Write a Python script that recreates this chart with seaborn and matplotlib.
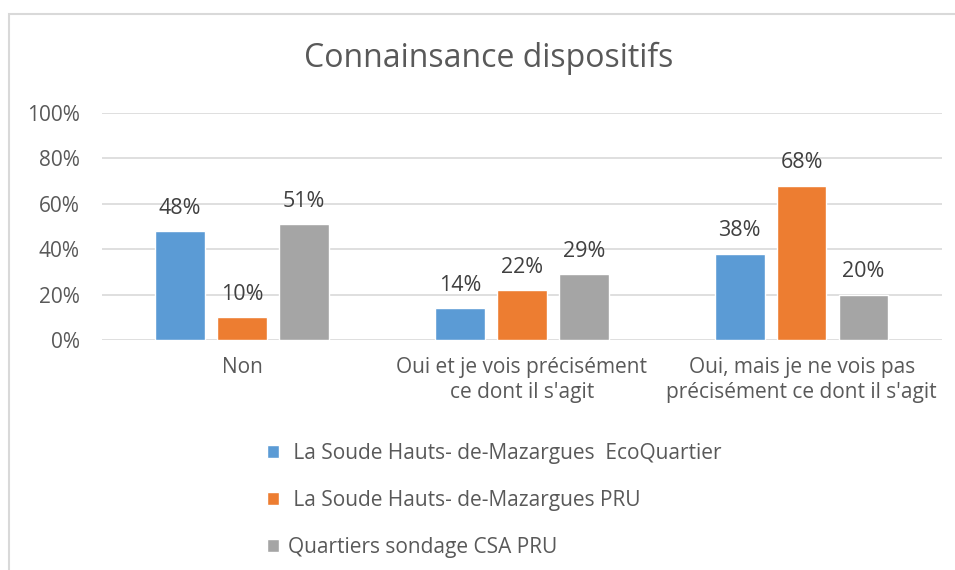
import pandas as pd
import matplotlib.pyplot as plt
import seaborn as sns
from matplotlib.patches import Rectangle
from matplotlib.ticker import PercentFormatter

categories = ["Non", "Oui et je vois précisément\nce dont il s'agit",
              "Oui, mais je ne vois pas\nprécisément ce dont il s'agit"]
series = [" La Soude Hauts- de-Mazargues  EcoQuartier",
          " La Soude Hauts- de-Mazargues PRU",
          "Quartiers sondage CSA PRU"]
eco = [0.48, 0.14, 0.38]
pru = [0.10, 0.22, 0.68]
csa = [0.51, 0.29, 0.20]
colors = ["#5B9BD5", "#ED7D31", "#A5A5A5"]

df = pd.DataFrame({
    "cat": categories * 3,
    "serie": [series[0]] * 3 + [series[1]] * 3 + [series[2]] * 3,
    "val": eco + pru + csa,
})

sns.set_style("white")
plt.rcParams["font.family"] = ["Open Sans", "DejaVu Sans"]
txt = "#595959"

fig = plt.figure(figsize=(9.55, 5.70), dpi=100)
ax = fig.add_axes([0.107, 0.4035, 0.879, 0.3983])

sns.barplot(data=df, x="cat", y="val", hue="serie", palette=colors,
            width=0.664, gap=0.2, ax=ax, legend=True, saturation=1)

for cont in ax.containers:
    ax.bar_label(cont, labels=[f"{v*100:.0f}%" for v in cont.datavalues],
                 padding=9, fontsize=15.5, color="#404040")

ax.set_ylim(0, 1)
ax.set_yticks([0, 0.2, 0.4, 0.6, 0.8, 1.0])
ax.yaxis.set_major_formatter(PercentFormatter(1.0, decimals=0))
ax.grid(axis="y", color="#D9D9D9", linewidth=1.2)
ax.set_axisbelow(True)
for s in ax.spines.values():
    s.set_visible(False)
ax.tick_params(axis="both", length=0, labelsize=15, colors=txt)
ax.tick_params(axis="y", pad=16)
ax.tick_params(axis="x", pad=12)
ax.set_xlabel("")
ax.set_ylabel("")
for lbl in ax.get_xticklabels():
    lbl.set_linespacing(1.25)

# title centred on the whole chart area, not the plot
fig.text(489 / 955, 1 - 58 / 570, "Connainsance dispositifs", fontsize=23,
         color=txt, ha="center", va="center")

leg = ax.legend(loc="upper left", bbox_to_anchor=(0.174, -0.37), frameon=False,
                fontsize=15, labelcolor=txt, handlelength=0.6, handleheight=0.6,
                handletextpad=0.4, labelspacing=1.25)

# chart border (right and bottom cropped off)
fig.patches.append(Rectangle((9 / 955, -0.1), 1.2, 1 - 14 / 570 + 0.1,
                             transform=fig.transFigure, fill=False,
                             edgecolor="#D9D9D9", linewidth=1.5))

fig.savefig("out.png", dpi=100)
